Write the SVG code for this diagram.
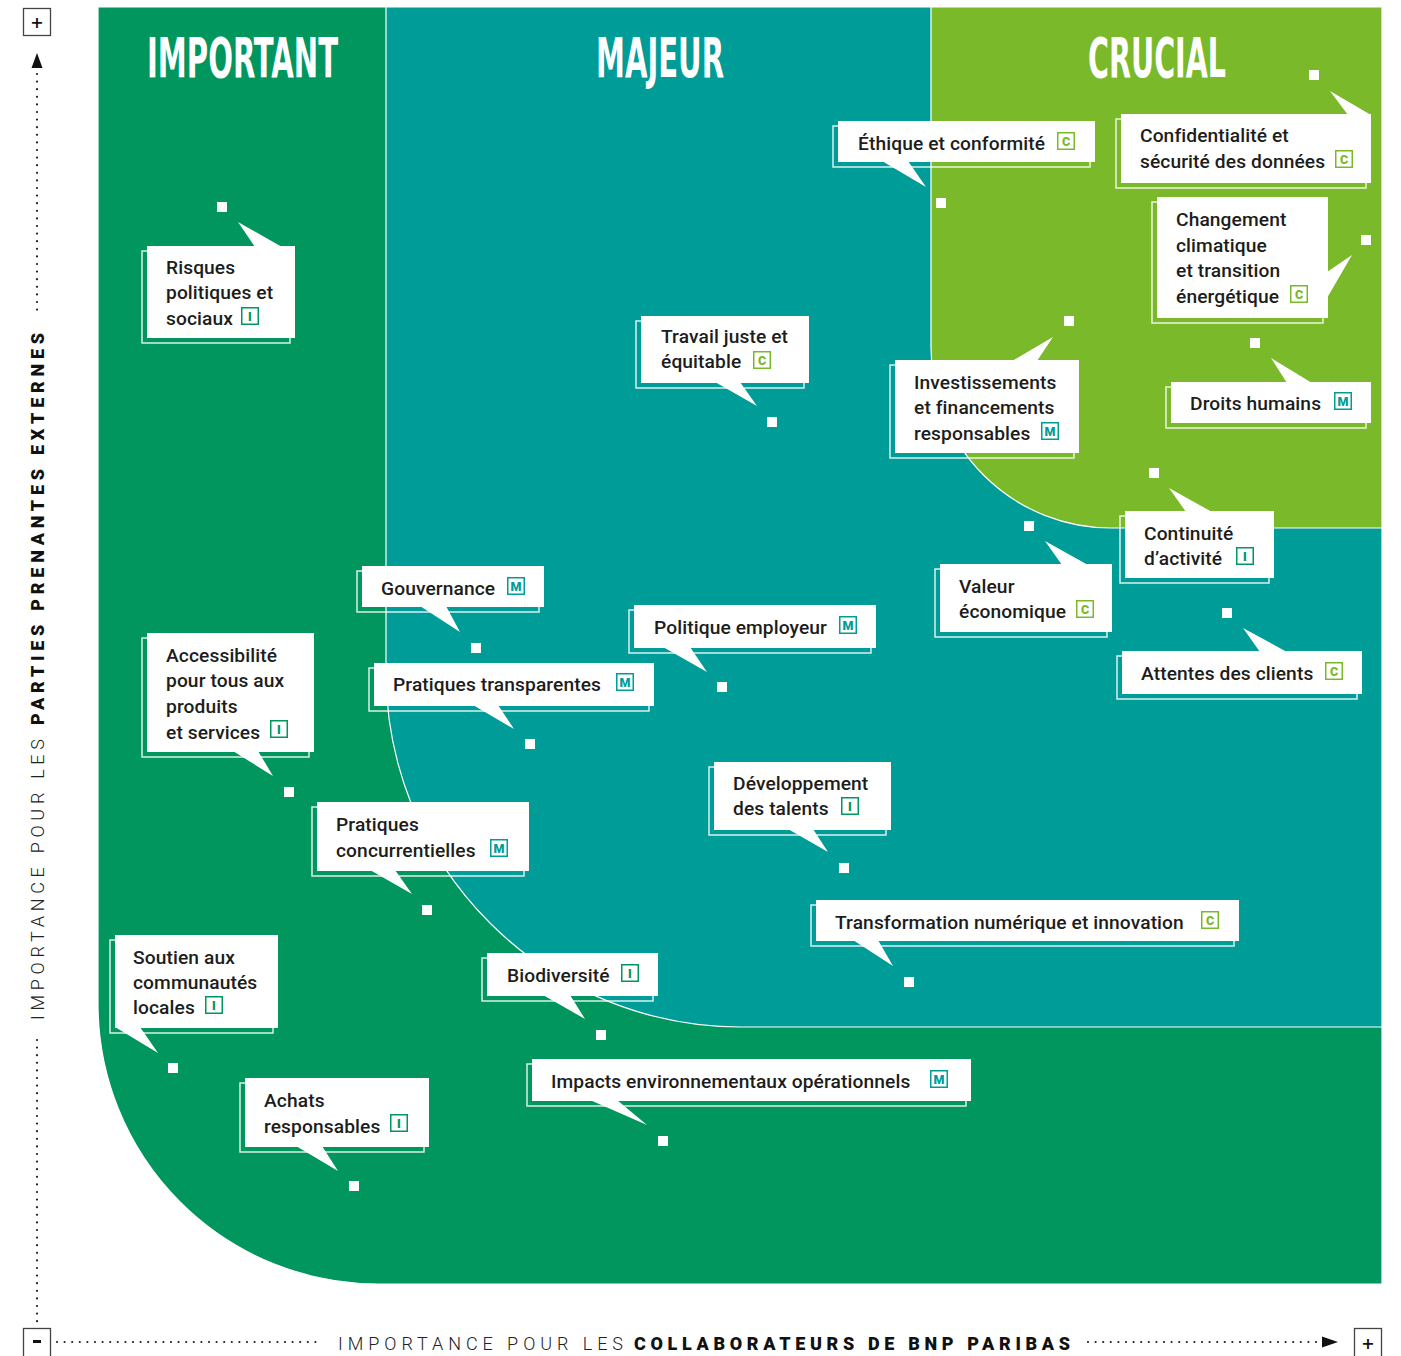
<svg xmlns="http://www.w3.org/2000/svg" width="1401" height="1356" viewBox="0 0 1401 1356">
<style>
.reg{stroke:#fff;stroke-width:1.2}
.ol{fill:none;stroke:#fff;stroke-opacity:.85;stroke-width:1.5}
.w{fill:#fff}
.t{font-family:Roboto,"Liberation Sans",sans-serif;font-weight:500;font-size:19.2px;letter-spacing:0.1px;fill:#1d1d1b}
.ttl{font-family:"Liberation Sans Narrow","DejaVu Sans Condensed",Roboto,sans-serif;font-weight:700;font-size:55px;fill:#fff}
.bg{fill:#fff;stroke-width:1.5}
.bl{font-family:Roboto,"Liberation Sans",sans-serif;font-weight:900;font-size:12.5px;text-anchor:middle}
.C rect{stroke:#7ab929}.C text{fill:#7ab929}
.M rect{stroke:#009c98}.M text{fill:#009c98}
.I rect{stroke:#00965e}.I text{fill:#00965e}
.ax{fill:none;stroke:#222;stroke-width:2.2;stroke-linecap:round;stroke-dasharray:0 7.6}
.axl{font-family:Roboto,"Liberation Sans",sans-serif;font-weight:300;font-size:18px;fill:#222}
.axb{font-family:Roboto,"Liberation Sans",sans-serif;font-weight:900;font-size:18px;fill:#111}
.pm{fill:#fff;stroke:#444;stroke-width:1.3}
.pmt{font-family:"DejaVu Sans",sans-serif;font-weight:700;font-size:16px;fill:#111;text-anchor:middle}
</style>
<defs>
<g id="bC" class="C"><rect class="bg" x="0.75" y="0.75" width="16.5" height="16.5"/><text class="bl" x="9" y="13.5">C</text></g>
<g id="bM" class="M"><rect class="bg" x="0.75" y="0.75" width="16.5" height="16.5"/><text class="bl" x="9" y="13.5">M</text></g>
<g id="bI" class="I"><rect class="bg" x="0.75" y="0.75" width="16.5" height="16.5"/><text class="bl" x="9" y="13.5">I</text></g>
</defs>
<rect width="1401" height="1356" fill="#fff"/>
<g id="regions">
<path class="reg" fill="#00965e" d="M98,7 H1382 V1284 H378 A280,280 0 0 1 98,1004 Z"/>
<path class="reg" fill="#009c98" d="M386,7 H1382 V1027 H741 A355,355 0 0 1 386,672 Z"/>
<path class="reg" fill="#7ab929" d="M931,7 H1382 V528 H1111 A180,180 0 0 1 931,348 Z"/>
<text class="ttl" x="147" y="77" textLength="191" lengthAdjust="spacingAndGlyphs">IMPORTANT</text>
<text class="ttl" x="596" y="77" textLength="128" lengthAdjust="spacingAndGlyphs">MAJEUR</text>
<text class="ttl" x="1088" y="77" textLength="138" lengthAdjust="spacingAndGlyphs">CRUCIAL</text>
</g>
<g id="axes">
<line class="ax" x1="37" y1="74" x2="37" y2="312"/>
<line class="ax" x1="37" y1="1040" x2="37" y2="1322"/>
<polygon points="37,53 31.5,68 42.5,68" fill="#111"/>
<line class="ax" x1="57" y1="1342" x2="320" y2="1342"/>
<line class="ax" x1="1088" y1="1342" x2="1318" y2="1342"/>
<polygon points="1338,1342 1322,1336.5 1322,1347.5" fill="#111"/>
<rect class="pm" x="23.5" y="8.5" width="27" height="27"/><text class="pmt" x="37" y="28">+</text>
<rect class="pm" x="23.5" y="1328.5" width="27" height="32"/><rect x="33" y="1340" width="8" height="3" fill="#111"/>
<rect class="pm" x="1354.5" y="1328.5" width="27" height="32"/><text class="pmt" x="1368" y="1349">+</text>
<g transform="translate(44,1020) rotate(-90)">
<text class="axl" x="0" y="0" textLength="281">IMPORTANCE POUR LES</text>
<text class="axb" x="295" y="0" textLength="392">PARTIES PRENANTES EXTERNES</text>
</g>
<text class="axl" x="338" y="1350" textLength="285">IMPORTANCE POUR LES</text>
<text class="axb" x="634" y="1350" textLength="436">COLLABORATEURS DE BNP PARIBAS</text>
</g>
<g id="connectors">
<rect class="w" x="217" y="202" width="10" height="10"/>
<rect class="w" x="936" y="198" width="10" height="10"/>
<rect class="w" x="1309" y="70" width="10" height="10"/>
<rect class="w" x="1361" y="235" width="10" height="10"/>
<rect class="w" x="767" y="417" width="10" height="10"/>
<rect class="w" x="1064" y="316" width="10" height="10"/>
<rect class="w" x="1250" y="338" width="10" height="10"/>
<rect class="w" x="1149" y="468" width="10" height="10"/>
<rect class="w" x="1024" y="521" width="10" height="10"/>
<rect class="w" x="1222" y="608" width="10" height="10"/>
<rect class="w" x="471" y="643" width="10" height="10"/>
<rect class="w" x="717" y="682" width="10" height="10"/>
<rect class="w" x="525" y="739" width="10" height="10"/>
<rect class="w" x="284" y="787" width="10" height="10"/>
<rect class="w" x="839" y="863" width="10" height="10"/>
<rect class="w" x="422" y="905" width="10" height="10"/>
<rect class="w" x="904" y="977" width="10" height="10"/>
<rect class="w" x="596" y="1030" width="10" height="10"/>
<rect class="w" x="168" y="1063" width="10" height="10"/>
<rect class="w" x="658" y="1136" width="10" height="10"/>
<rect class="w" x="349" y="1181" width="10" height="10"/>
</g>
<g id="n1"><rect class="ol" x="142" y="251" width="148" height="92"/><polygon class="w" points="255,247 238,222 282,247"/><rect class="w" x="147" y="246" width="148" height="92"/>
<text class="t"><tspan x="166" y="274">Risques</tspan><tspan x="166" y="299">politiques et</tspan><tspan x="166" y="325">sociaux</tspan></text><use href="#bI" x="241" y="307"/></g>
<g id="n2"><rect class="ol" x="833" y="126" width="257" height="41"/><polygon class="w" points="882,161 926,187 908,161"/><rect class="w" x="838" y="121" width="257" height="41"/>
<text class="t" x="858" y="150">Éthique et conformité</text><use href="#bC" x="1057" y="132"/></g>
<g id="n3"><rect class="ol" x="1116" y="119" width="250" height="69"/><polygon class="w" points="1348,115 1330,91 1371,115"/><rect class="w" x="1121" y="114" width="250" height="69"/>
<text class="t"><tspan x="1140" y="142">Confidentialité et</tspan><tspan x="1140" y="168">sécurité des données</tspan></text><use href="#bC" x="1335" y="150"/></g>
<g id="n4"><rect class="ol" x="1152" y="202" width="171" height="121"/><polygon class="w" points="1327,272 1352,255 1327,298"/><rect class="w" x="1157" y="197" width="171" height="121"/>
<text class="t"><tspan x="1176" y="226">Changement</tspan><tspan x="1176" y="252">climatique</tspan><tspan x="1176" y="277">et transition</tspan><tspan x="1176" y="303">énergétique</tspan></text><use href="#bC" x="1290" y="285"/></g>
<g id="n5"><rect class="ol" x="636" y="321" width="168" height="67"/><polygon class="w" points="715,382 757,406 740,382"/><rect class="w" x="641" y="316" width="168" height="67"/>
<text class="t"><tspan x="661" y="343">Travail juste et</tspan><tspan x="661" y="368">équitable</tspan></text><use href="#bC" x="753" y="351"/></g>
<g id="n6"><rect class="ol" x="890" y="365" width="184" height="93"/><polygon class="w" points="1012,361 1053,337 1037,361"/><rect class="w" x="895" y="360" width="184" height="93"/>
<text class="t"><tspan x="914" y="389">Investissements</tspan><tspan x="914" y="414">et financements</tspan><tspan x="914" y="440">responsables</tspan></text><use href="#bM" x="1041" y="422"/></g>
<g id="n7"><rect class="ol" x="1166" y="387" width="200" height="41"/><polygon class="w" points="1287,383 1271,358 1312,383"/><rect class="w" x="1171" y="382" width="200" height="41"/>
<text class="t" x="1190" y="410">Droits humains</text><use href="#bM" x="1334" y="392"/></g>
<g id="n8"><rect class="ol" x="1120" y="516" width="149" height="67"/><polygon class="w" points="1186,512 1169,488 1212,512"/><rect class="w" x="1125" y="511" width="149" height="67"/>
<text class="t"><tspan x="1144" y="540">Continuité</tspan><tspan x="1144" y="565">d’activité</tspan></text><use href="#bI" x="1236" y="547"/></g>
<g id="n9"><rect class="ol" x="935" y="569" width="172" height="68"/><polygon class="w" points="1062,565 1045,541 1088,565"/><rect class="w" x="940" y="564" width="172" height="68"/>
<text class="t"><tspan x="959" y="593">Valeur</tspan><tspan x="959" y="618">économique</tspan></text><use href="#bC" x="1076" y="600"/></g>
<g id="n10"><rect class="ol" x="1117" y="656" width="240" height="43"/><polygon class="w" points="1260,652 1243,628 1287,652"/><rect class="w" x="1122" y="651" width="240" height="43"/>
<text class="t" x="1141" y="680">Attentes des clients</text><use href="#bC" x="1325" y="662"/></g>
<g id="n11"><rect class="ol" x="357" y="571" width="182" height="41"/><polygon class="w" points="420,606 460,632 446,606"/><rect class="w" x="362" y="566" width="182" height="41"/>
<text class="t" x="381" y="595">Gouvernance</text><use href="#bM" x="507" y="577"/></g>
<g id="n12"><rect class="ol" x="629" y="610" width="242" height="43"/><polygon class="w" points="663,647 707,672 690,647"/><rect class="w" x="634" y="605" width="242" height="43"/>
<text class="t" x="654" y="634">Politique employeur</text><use href="#bM" x="839" y="616"/></g>
<g id="n13"><rect class="ol" x="369" y="668" width="280" height="43"/><polygon class="w" points="473,705 514,729 498,705"/><rect class="w" x="374" y="663" width="280" height="43"/>
<text class="t" x="393" y="691">Pratiques transparentes</text><use href="#bM" x="616" y="673"/></g>
<g id="n14"><rect class="ol" x="142" y="638" width="167" height="119"/><polygon class="w" points="233,751 273,776 258,751"/><rect class="w" x="147" y="633" width="167" height="119"/>
<text class="t"><tspan x="166" y="662">Accessibilité</tspan><tspan x="166" y="687">pour tous aux</tspan><tspan x="166" y="713">produits</tspan><tspan x="166" y="739">et services</tspan></text><use href="#bI" x="270" y="720"/></g>
<g id="n15"><rect class="ol" x="709" y="767" width="177" height="68"/><polygon class="w" points="788,829 828,852 813,829"/><rect class="w" x="714" y="762" width="177" height="68"/>
<text class="t"><tspan x="733" y="790">Développement</tspan><tspan x="733" y="815">des talents</tspan></text><use href="#bI" x="841" y="797"/></g>
<g id="n16"><rect class="ol" x="312" y="807" width="212" height="69"/><polygon class="w" points="370,870 412,894 395,870"/><rect class="w" x="317" y="802" width="212" height="69"/>
<text class="t"><tspan x="336" y="831">Pratiques</tspan><tspan x="336" y="857">concurrentielles</tspan></text><use href="#bM" x="490" y="839"/></g>
<g id="n17"><rect class="ol" x="811" y="905" width="423" height="41"/><polygon class="w" points="853,940 893,966 878,940"/><rect class="w" x="816" y="900" width="423" height="41"/>
<text class="t" x="835" y="929">Transformation numérique et innovation</text><use href="#bC" x="1201" y="911"/></g>
<g id="n18"><rect class="ol" x="482" y="958" width="171" height="43"/><polygon class="w" points="543,995 585,1019 570,995"/><rect class="w" x="487" y="953" width="171" height="43"/>
<text class="t" x="507" y="982">Biodiversité</text><use href="#bI" x="621" y="964"/></g>
<g id="n19"><rect class="ol" x="110" y="940" width="163" height="93"/><polygon class="w" points="115,1027 158,1053 140,1027"/><rect class="w" x="115" y="935" width="163" height="93"/>
<text class="t"><tspan x="133" y="964">Soutien aux</tspan><tspan x="133" y="989">communautés</tspan><tspan x="133" y="1014">locales</tspan></text><use href="#bI" x="205" y="996"/></g>
<g id="n20"><rect class="ol" x="527" y="1064" width="439" height="42"/><polygon class="w" points="590,1100 647,1125 617,1100"/><rect class="w" x="532" y="1059" width="439" height="42"/>
<text class="t" x="551" y="1088">Impacts environnementaux opérationnels</text><use href="#bM" x="930" y="1070"/></g>
<g id="n21"><rect class="ol" x="240" y="1083" width="184" height="69"/><polygon class="w" points="296,1146 338,1171 322,1146"/><rect class="w" x="245" y="1078" width="184" height="69"/>
<text class="t"><tspan x="264" y="1107">Achats</tspan><tspan x="264" y="1133">responsables</tspan></text><use href="#bI" x="390" y="1114"/></g>
</svg>
